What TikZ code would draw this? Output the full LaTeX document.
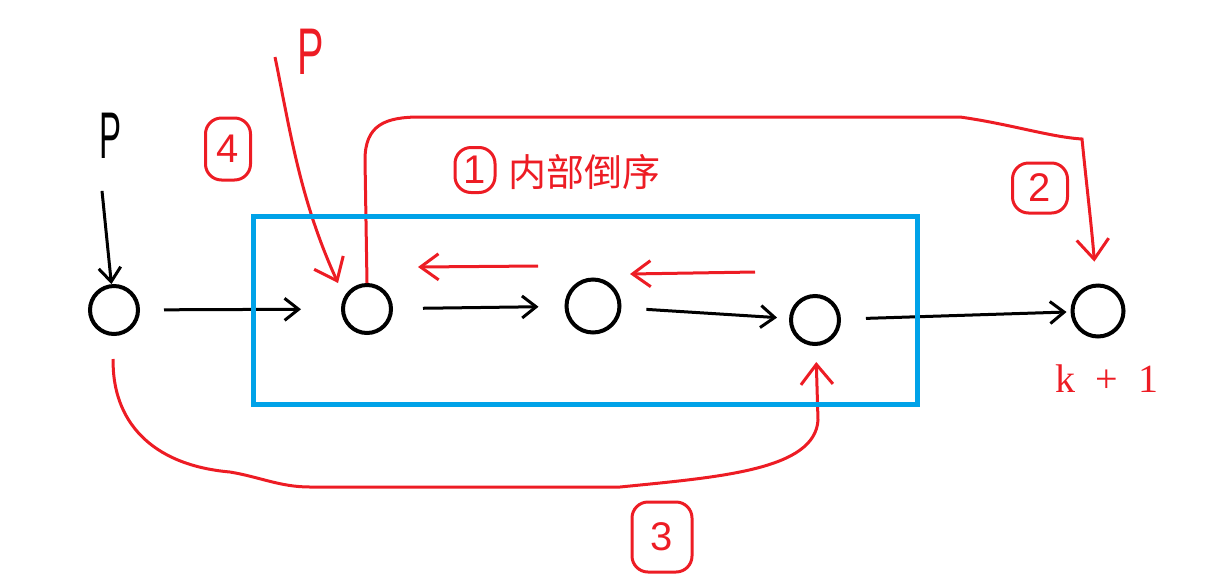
\documentclass[tikz,border=0pt]{standalone}
\usepackage{fontspec}
\newfontfamily\cjk{Noto Sans CJK SC}
\newfontfamily\hand{Liberation Sans}
\newfontfamily\serifnum{Liberation Serif}
\usetikzlibrary{arrows.meta, positioning}
\definecolor{penred}{RGB}{237,28,36}
\definecolor{penblue}{RGB}{0,162,232}

\begin{document}
\begin{tikzpicture}[
    x=1pt, y=-1pt,
    elem/.style={circle, draw=black, line width=4pt, minimum size=48pt, inner sep=0pt},
    link/.style={-{Straight Barb[length=14pt,width=22pt]}, line width=3pt},
    redlink/.style={-{Straight Barb[length=20pt,width=32pt]}, line width=3pt, draw=penred},
    tag/.style={draw=penred, text=penred, line width=3pt, rounded corners=16pt, inner sep=0pt, font=\hand\fontsize{40}{40}\selectfont},
    plabel/.style={inner sep=0pt, font=\hand\fontsize{66}{66}\selectfont}
]
\useasboundingbox (0,0) rectangle (1225,582);

% list nodes
\node[elem] (n0) at (114,310) {};
\node[elem] (n1) at (367,309) {};
\node[elem, minimum size=53pt] (n2) at (593,306) {};
\node[elem] (n3) at (815,320) {};
\node[elem, minimum size=51pt] (n4) at (1098,311) {};
\node[inner sep=0pt, text=penred, font=\serifnum\fontsize{40}{40}\selectfont,
      below=26pt of n4, xshift=9pt] (klabel) {k\enspace+\enspace1};

% pointers
\node[plabel] (pblack) at (111,136) {\scalebox{0.5}[1]{P}};
\node[plabel, text=penred] (pred) at (311,52) {\scalebox{0.6}[1]{P}};
\coordinate (ptail) at (275,57);
\coordinate (ptip) at (338,283);

% step tags
\node[tag, minimum width=40pt, minimum height=45pt] (t1) at (475,170) {1};
\node[tag, minimum width=55pt, minimum height=50pt] (t2) at (1040,188) {2};
\node[tag, minimum width=60pt, minimum height=70pt] (t3) at (662,537) {3};
\node[tag, minimum width=45pt, minimum height=62pt] (t4) at (228,149) {4};
\node[text=penred, inner sep=0pt, font=\cjk\fontsize{38}{38}\selectfont, anchor=west] (rev) at (508,172) {内部倒序};

% black links
\draw[link, shorten <=24pt, shorten >=40pt] (n0) -- (n1);
\draw[link, shorten <=30pt, shorten >=26pt] (n1) -- (n2);
\draw[link, shorten <=25pt, shorten >=12pt] (n2) -- (n3);
\draw[link, shorten <=25pt, shorten >=4pt] (n3) -- (n4);
\draw[link] ([xshift=-9pt, yshift=-32pt]pblack.south) -- (n0);

% red reversal arrows
\coordinate (r1s) at (538,266);
\coordinate (r1e) at (418,267);
\coordinate (r2s) at (755,272);
\coordinate (r2e) at (630,274);
\draw[redlink, -{Straight Barb[length=18pt,width=26pt]}] (r1s) -- (r1e);
\draw[redlink, -{Straight Barb[length=18pt,width=26pt]}] (r2s) -- (r2e);

% red re-links
\draw[redlink] (ptail) .. controls (290,130) and (300,200) .. (ptip);
\draw[redlink, shorten >=22pt] (n1.north) -- (365,160)
    .. controls (365,125) and (385,117) .. (420,117) -- (960,117)
    .. controls (1010,124) and (1050,137) .. (1082,139)
    .. controls (1086,180) and (1092,230) .. (n4);
\draw[redlink, shorten <=23pt, shorten >=16pt] (n0)
    .. controls (112,420) and (150,465) .. (230,472)
    .. controls (260,477) and (280,487) .. (310,487) -- (620,487)
    .. controls (720,477) and (815,470) .. (818,420) -- (n3);

% reversed block
\draw[penblue, line width=5pt] (253,216) rectangle (917,404);
\end{tikzpicture}
\end{document}
